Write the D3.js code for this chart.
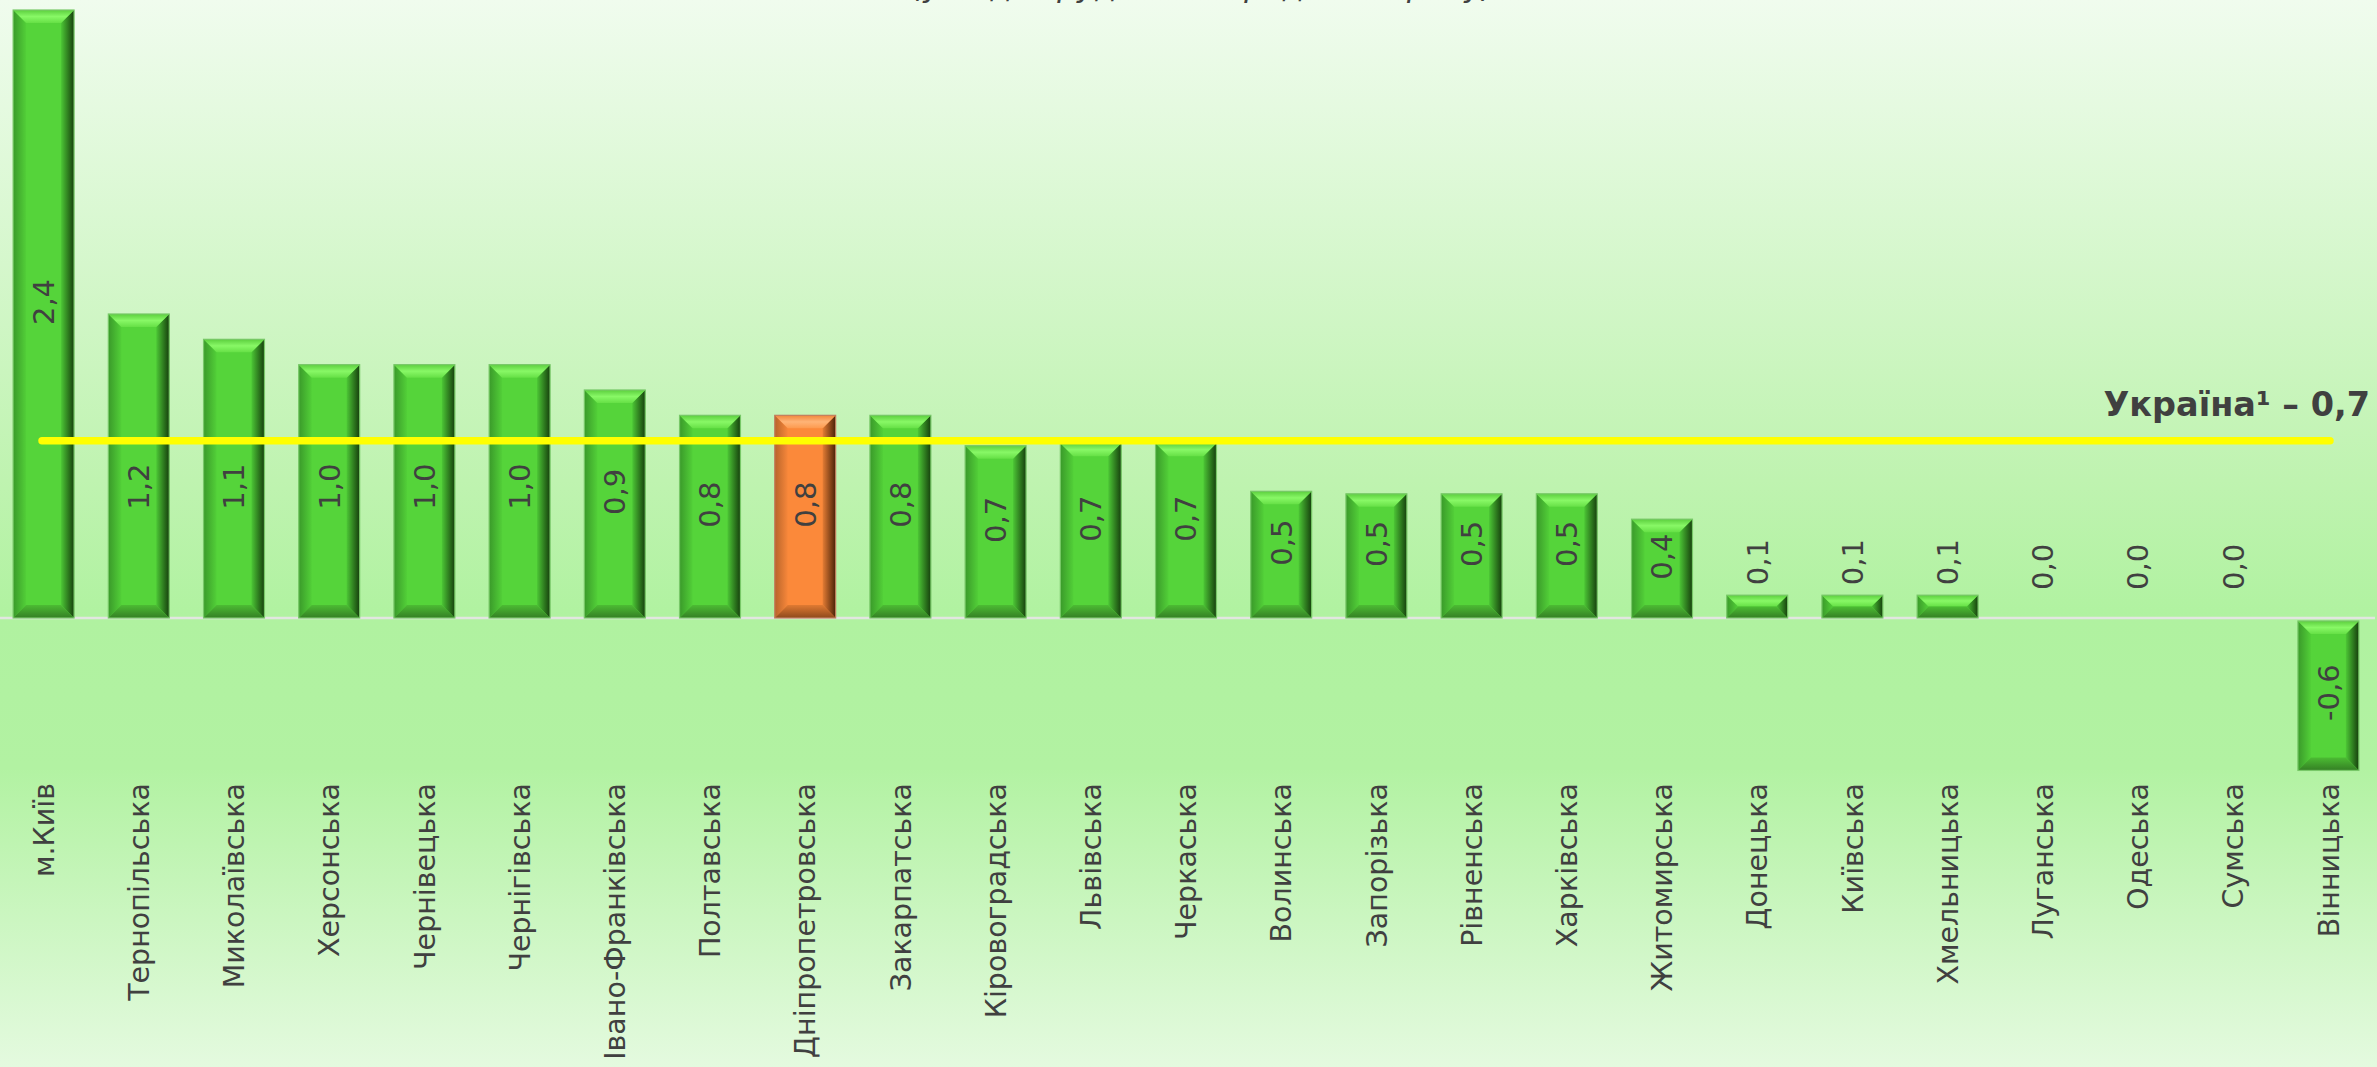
<!DOCTYPE html>
<html>
<head>
<meta charset="utf-8">
<script src="https://cdn.jsdelivr.net/npm/d3@7"></script>
<style>
  html, body { margin: 0; padding: 0; overflow: hidden; }
  svg { display: block; }
</style>
</head>
<body>
<div id="chart"></div>
<script>
// data
let regions = ["м.Київ", "Тернопільська", "Миколаївська", "Херсонська", "Чернівецька",
    "Чернігівська", "Івано-Франківська", "Полтавська", "Дніпропетровська", "Закарпатська",
    "Кіровоградська", "Львівська", "Черкаська", "Волинська", "Запорізька", "Рівненська",
    "Харківська", "Житомирська", "Донецька", "Київська", "Хмельницька", "Луганська",
    "Одеська", "Сумська", "Вінницька"];
let values = [2.4, 1.2, 1.1, 1.0, 1.0, 1.0, 0.9, 0.8, 0.8, 0.8, 0.68, 0.69, 0.69,
    0.5, 0.49, 0.49, 0.49, 0.39, 0.09, 0.09, 0.09, 0, 0, 0, -0.59];
let highlighted = ["Дніпропетровська"];
let ukraineValue = 0.7;
let ukraineText = "Україна¹ – 0,7";
let subtitle = "(у % до грудня попереднього року)";

let W = 2377, H = 1067;
let font = "'DejaVu Sans', Verdana, sans-serif";
let textColor = "#404040";

let svg = d3.select("#chart").append("svg")
    .attr("width", W)
    .attr("height", H);

let defs = svg.append("defs");

// background
let bg = defs.append("linearGradient").attr("id", "bg")
    .attr("x1", 0).attr("y1", 0).attr("x2", 0).attr("y2", 1);
[[0, "#f0fcee"], [0.45, "#bff3b0"], [0.58, "#b0f2a0"], [0.72, "#b2f2a2"], [1, "#e4fadf"]]
    .forEach(s => bg.append("stop").attr("offset", s[0]).attr("stop-color", s[1]));
svg.append("rect").attr("width", W).attr("height", H).attr("fill", "url(#bg)");

// bar palettes: face, top bevel, bottom bevel, left, right edge, outline
let palettes = {
    green: {face: "#55d43a", top: ["#5ccf3e", "#88f866", "#66e046"], bottom: ["#4cbc33", "#347f24"],
        left: ["#3a9a2a", "#52cf38"], right: ["#4cc635", "#163f0d"], stroke: "#78c868"},
    orange: {face: "#fb893a", top: ["#f0883c", "#ffb477", "#fd9a4e"], bottom: ["#e07a32", "#8e4a1c"],
        left: ["#b8642a", "#f7873a"], right: ["#e47c34", "#4a2208"], stroke: "#c08060"}
};

function addGrad(id, stops, horizontal) {
    let g = defs.append("linearGradient").attr("id", id)
        .attr("x1", 0).attr("y1", 0)
        .attr("x2", horizontal ? 1 : 0).attr("y2", horizontal ? 0 : 1);
    stops.forEach((c, i) => g.append("stop")
        .attr("offset", i / (stops.length - 1)).attr("stop-color", c));
}
Object.keys(palettes).forEach(k => {
    let p = palettes[k];
    addGrad(k + "-top", p.top, false);
    addGrad(k + "-bottom", p.bottom, false);
    addGrad(k + "-left", p.left, true);
    addGrad(k + "-right", p.right, true);
});

let x = d3.scaleBand()
    .domain(regions)
    .range([-4, 2376])
    .paddingInner(0.36)
    .paddingOuter(0.18);

let y = d3.scaleLinear()
    .domain([-1, 2.4])
    .range([618 + 253.3, 10]);

let fmt = v => d3.format(".1f")(v).replace(".", ",").replace("−", "-");

// baseline
svg.append("line")
    .attr("x1", 0).attr("x2", 2375)
    .attr("y1", y(0)).attr("y2", y(0))
    .attr("stroke", "#e2e6e0")
    .attr("stroke-width", 2.5);

let bars = svg.append("g");
regions.forEach((r, i) => {
    let v = values[i];
    if (v === 0) return;
    let p = highlighted.includes(r) ? "orange" : "green";
    let pal = palettes[p];
    let x0 = x(r), x1 = x(r) + x.bandwidth();
    let y0 = v > 0 ? y(v) : y(0) + 3;
    let y1 = v > 0 ? y(0) : y(v) + 3;
    let h = y1 - y0;
    let bv = Math.min(13, h / 2);
    let g = bars.append("g");
    g.append("rect")
        .attr("x", x0).attr("y", y0)
        .attr("width", x1 - x0).attr("height", h)
        .attr("fill", pal.face);
    let poly = (pts, fill) => g.append("polygon")
        .attr("points", pts.map(d => d.join(",")).join(" "))
        .attr("fill", fill);
    poly([[x0, y0], [x0 + bv, y0 + bv], [x0 + bv, y1 - bv], [x0, y1]], "url(#" + p + "-left)");
    poly([[x1, y0], [x1 - bv, y0 + bv], [x1 - bv, y1 - bv], [x1, y1]], "url(#" + p + "-right)");
    poly([[x0, y0], [x1, y0], [x1 - bv, y0 + bv], [x0 + bv, y0 + bv]], "url(#" + p + "-top)");
    poly([[x0, y1], [x1, y1], [x1 - bv, y1 - bv], [x0 + bv, y1 - bv]], "url(#" + p + "-bottom)");
    g.append("rect")
        .attr("x", x0).attr("y", y0)
        .attr("width", x1 - x0).attr("height", h)
        .attr("fill", "none")
        .attr("stroke", pal.stroke)
        .attr("stroke-width", 1.2);
});

// average line for Ukraine
let lineY = y(ukraineValue);
svg.append("line")
    .attr("x1", 42).attr("x2", 2330)
    .attr("y1", lineY).attr("y2", lineY)
    .attr("stroke", "#ffff00")
    .attr("stroke-width", 7.5)
    .attr("stroke-linecap", "round");

// value labels, rotated; kept clear of the yellow line
let labels = svg.append("g")
    .attr("font-family", font)
    .attr("font-size", 29)
    .attr("fill", textColor);
regions.forEach((r, i) => {
    let v = values[i];
    let cx = x(r) + x.bandwidth() / 2;
    let cy, anchor = "middle";
    if (Math.abs(v) < 0.2) {
        cy = Math.min(y(Math.max(v, 0)) - 10, y(0) - 28);
        anchor = "start";
    } else if (v < 0) {
        cy = (y(v) + y(0)) / 2;
    } else {
        cy = (y(v) + y(0)) / 2 - 12;
        if (Math.abs(cy - lineY) < 46) cy = lineY + 46;
    }
    labels.append("text")
        .attr("transform", "translate(" + cx + "," + cy + ") rotate(-90)")
        .attr("text-anchor", anchor)
        .attr("dy", "0.36em")
        .text(fmt(v));
});

// category labels
let cats = svg.append("g")
    .attr("font-family", font)
    .attr("font-size", 28.5)
    .attr("fill", textColor);
regions.forEach(r => {
    cats.append("text")
        .attr("transform", "translate(" + (x(r) + x.bandwidth() / 2) + ",783) rotate(-90)")
        .attr("text-anchor", "end")
        .attr("dy", "0.36em")
        .text(r);
});

svg.append("text")
    .attr("x", 2370).attr("y", 416)
    .attr("text-anchor", "end")
    .attr("font-family", font)
    .attr("font-size", 33.5)
    .attr("font-weight", "bold")
    .attr("fill", textColor)
    .text(ukraineText);

// subtitle: only its lower edge shows at the top of the frame, as in the source
svg.append("text")
    .attr("x", 1203).attr("y", -3)
    .attr("text-anchor", "middle")
    .attr("font-family", font)
    .attr("font-size", 31)
    .attr("font-style", "italic")
    .attr("fill", textColor)
    .text(subtitle);
</script>
</body>
</html>
